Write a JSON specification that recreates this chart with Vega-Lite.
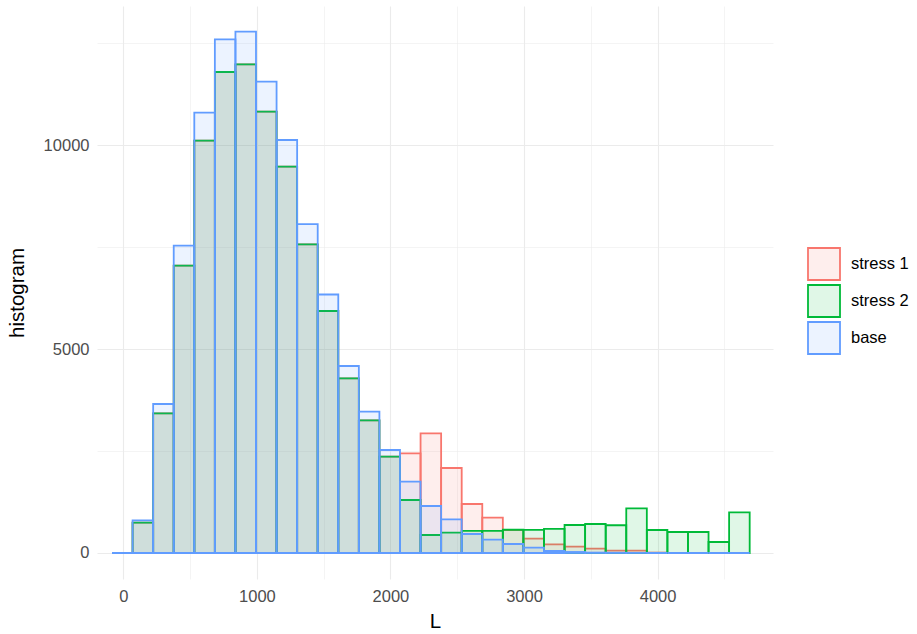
{
  "$schema": "https://vega.github.io/schema/vega-lite/v6.json",
  "description": "Overlaid histograms of L for three scenarios (ggplot-style, identity position).",
  "width": 676,
  "height": 573,
  "autosize": {"type": "none"},
  "padding": {"left": 97, "top": 6, "right": 144, "bottom": 55},
  "data": {
    "values": [
      {"scenario": "stress 1", "L_start": -84.6, "L_end": 69.4, "count": 0},
      {"scenario": "stress 1", "L_start": 69.4, "L_end": 223.4, "count": 744},
      {"scenario": "stress 1", "L_start": 223.4, "L_end": 377.4, "count": 3426},
      {"scenario": "stress 1", "L_start": 377.4, "L_end": 531.4, "count": 7047},
      {"scenario": "stress 1", "L_start": 531.4, "L_end": 685.4, "count": 10113},
      {"scenario": "stress 1", "L_start": 685.4, "L_end": 839.4, "count": 11798},
      {"scenario": "stress 1", "L_start": 839.4, "L_end": 993.4, "count": 11987},
      {"scenario": "stress 1", "L_start": 993.4, "L_end": 1147.4, "count": 10824},
      {"scenario": "stress 1", "L_start": 1147.4, "L_end": 1301.4, "count": 9476},
      {"scenario": "stress 1", "L_start": 1301.4, "L_end": 1455.4, "count": 7571},
      {"scenario": "stress 1", "L_start": 1455.4, "L_end": 1609.4, "count": 5936},
      {"scenario": "stress 1", "L_start": 1609.4, "L_end": 1763.4, "count": 4285},
      {"scenario": "stress 1", "L_start": 1763.4, "L_end": 1917.4, "count": 3254},
      {"scenario": "stress 1", "L_start": 1917.4, "L_end": 2071.4, "count": 2362},
      {"scenario": "stress 1", "L_start": 2071.4, "L_end": 2225.4, "count": 2445},
      {"scenario": "stress 1", "L_start": 2225.4, "L_end": 2379.4, "count": 2936},
      {"scenario": "stress 1", "L_start": 2379.4, "L_end": 2533.4, "count": 2085},
      {"scenario": "stress 1", "L_start": 2533.4, "L_end": 2687.4, "count": 1202},
      {"scenario": "stress 1", "L_start": 2687.4, "L_end": 2841.4, "count": 866},
      {"scenario": "stress 1", "L_start": 2841.4, "L_end": 2995.4, "count": 560},
      {"scenario": "stress 1", "L_start": 2995.4, "L_end": 3149.4, "count": 350},
      {"scenario": "stress 1", "L_start": 3149.4, "L_end": 3303.4, "count": 213},
      {"scenario": "stress 1", "L_start": 3303.4, "L_end": 3457.4, "count": 155},
      {"scenario": "stress 1", "L_start": 3457.4, "L_end": 3611.4, "count": 106},
      {"scenario": "stress 1", "L_start": 3611.4, "L_end": 3765.4, "count": 56},
      {"scenario": "stress 1", "L_start": 3765.4, "L_end": 3919.4, "count": 56},
      {"scenario": "stress 1", "L_start": 3919.4, "L_end": 4073.4, "count": 10},
      {"scenario": "stress 1", "L_start": 4073.4, "L_end": 4227.4, "count": 0},
      {"scenario": "stress 1", "L_start": 4227.4, "L_end": 4381.4, "count": 0},
      {"scenario": "stress 1", "L_start": 4381.4, "L_end": 4535.4, "count": 0},
      {"scenario": "stress 1", "L_start": 4535.4, "L_end": 4689.4, "count": 0},

      {"scenario": "stress 2", "L_start": -84.6, "L_end": 69.4, "count": 0},
      {"scenario": "stress 2", "L_start": 69.4, "L_end": 223.4, "count": 744},
      {"scenario": "stress 2", "L_start": 223.4, "L_end": 377.4, "count": 3426},
      {"scenario": "stress 2", "L_start": 377.4, "L_end": 531.4, "count": 7047},
      {"scenario": "stress 2", "L_start": 531.4, "L_end": 685.4, "count": 10113},
      {"scenario": "stress 2", "L_start": 685.4, "L_end": 839.4, "count": 11798},
      {"scenario": "stress 2", "L_start": 839.4, "L_end": 993.4, "count": 11987},
      {"scenario": "stress 2", "L_start": 993.4, "L_end": 1147.4, "count": 10824},
      {"scenario": "stress 2", "L_start": 1147.4, "L_end": 1301.4, "count": 9476},
      {"scenario": "stress 2", "L_start": 1301.4, "L_end": 1455.4, "count": 7571},
      {"scenario": "stress 2", "L_start": 1455.4, "L_end": 1609.4, "count": 5936},
      {"scenario": "stress 2", "L_start": 1609.4, "L_end": 1763.4, "count": 4285},
      {"scenario": "stress 2", "L_start": 1763.4, "L_end": 1917.4, "count": 3254},
      {"scenario": "stress 2", "L_start": 1917.4, "L_end": 2071.4, "count": 2362},
      {"scenario": "stress 2", "L_start": 2071.4, "L_end": 2225.4, "count": 1300},
      {"scenario": "stress 2", "L_start": 2225.4, "L_end": 2379.4, "count": 441},
      {"scenario": "stress 2", "L_start": 2379.4, "L_end": 2533.4, "count": 499},
      {"scenario": "stress 2", "L_start": 2533.4, "L_end": 2687.4, "count": 540},
      {"scenario": "stress 2", "L_start": 2687.4, "L_end": 2841.4, "count": 540},
      {"scenario": "stress 2", "L_start": 2841.4, "L_end": 2995.4, "count": 570},
      {"scenario": "stress 2", "L_start": 2995.4, "L_end": 3149.4, "count": 565},
      {"scenario": "stress 2", "L_start": 3149.4, "L_end": 3303.4, "count": 592},
      {"scenario": "stress 2", "L_start": 3303.4, "L_end": 3457.4, "count": 687},
      {"scenario": "stress 2", "L_start": 3457.4, "L_end": 3611.4, "count": 711},
      {"scenario": "stress 2", "L_start": 3611.4, "L_end": 3765.4, "count": 680},
      {"scenario": "stress 2", "L_start": 3765.4, "L_end": 3919.4, "count": 1096},
      {"scenario": "stress 2", "L_start": 3919.4, "L_end": 4073.4, "count": 564},
      {"scenario": "stress 2", "L_start": 4073.4, "L_end": 4227.4, "count": 515},
      {"scenario": "stress 2", "L_start": 4227.4, "L_end": 4381.4, "count": 515},
      {"scenario": "stress 2", "L_start": 4381.4, "L_end": 4535.4, "count": 270},
      {"scenario": "stress 2", "L_start": 4535.4, "L_end": 4689.4, "count": 998},

      {"scenario": "base", "L_start": -84.6, "L_end": 69.4, "count": 0},
      {"scenario": "base", "L_start": 69.4, "L_end": 223.4, "count": 800},
      {"scenario": "base", "L_start": 223.4, "L_end": 377.4, "count": 3655},
      {"scenario": "base", "L_start": 377.4, "L_end": 531.4, "count": 7537},
      {"scenario": "base", "L_start": 531.4, "L_end": 685.4, "count": 10800},
      {"scenario": "base", "L_start": 685.4, "L_end": 839.4, "count": 12600},
      {"scenario": "base", "L_start": 839.4, "L_end": 993.4, "count": 12790},
      {"scenario": "base", "L_start": 993.4, "L_end": 1147.4, "count": 11560},
      {"scenario": "base", "L_start": 1147.4, "L_end": 1301.4, "count": 10130},
      {"scenario": "base", "L_start": 1301.4, "L_end": 1455.4, "count": 8065},
      {"scenario": "base", "L_start": 1455.4, "L_end": 1609.4, "count": 6340},
      {"scenario": "base", "L_start": 1609.4, "L_end": 1763.4, "count": 4587},
      {"scenario": "base", "L_start": 1763.4, "L_end": 1917.4, "count": 3466},
      {"scenario": "base", "L_start": 1917.4, "L_end": 2071.4, "count": 2526},
      {"scenario": "base", "L_start": 2071.4, "L_end": 2225.4, "count": 1749},
      {"scenario": "base", "L_start": 2225.4, "L_end": 2379.4, "count": 1153},
      {"scenario": "base", "L_start": 2379.4, "L_end": 2533.4, "count": 826},
      {"scenario": "base", "L_start": 2533.4, "L_end": 2687.4, "count": 466},
      {"scenario": "base", "L_start": 2687.4, "L_end": 2841.4, "count": 330},
      {"scenario": "base", "L_start": 2841.4, "L_end": 2995.4, "count": 221},
      {"scenario": "base", "L_start": 2995.4, "L_end": 3149.4, "count": 130},
      {"scenario": "base", "L_start": 3149.4, "L_end": 3303.4, "count": 49},
      {"scenario": "base", "L_start": 3303.4, "L_end": 3457.4, "count": 25},
      {"scenario": "base", "L_start": 3457.4, "L_end": 3611.4, "count": 10},
      {"scenario": "base", "L_start": 3611.4, "L_end": 3765.4, "count": 5},
      {"scenario": "base", "L_start": 3765.4, "L_end": 3919.4, "count": 2},
      {"scenario": "base", "L_start": 3919.4, "L_end": 4073.4, "count": 0},
      {"scenario": "base", "L_start": 4073.4, "L_end": 4227.4, "count": 0},
      {"scenario": "base", "L_start": 4227.4, "L_end": 4381.4, "count": 0},
      {"scenario": "base", "L_start": 4381.4, "L_end": 4535.4, "count": 0},
      {"scenario": "base", "L_start": 4535.4, "L_end": 4689.4, "count": 0}
    ]
  },
  "mark": {
    "type": "rect",
    "fillOpacity": 0.12,
    "strokeWidth": 1.8
  },
  "encoding": {
    "x": {
      "field": "L_start",
      "type": "quantitative",
      "title": "L",
      "scale": {"domain": [-197, 4864], "nice": false, "zero": false},
      "axis": {
        "values": [0, 500, 1000, 1500, 2000, 2500, 3000, 3500, 4000, 4500],
        "labelExpr": "datum.value % 1000 === 0 ? datum.label : ''",
        "format": "d",
        "gridWidth": {"condition": {"test": "datum.value % 1000 === 0", "value": 1.1}, "value": 0.55}
      }
    },
    "x2": {"field": "L_end"},
    "y": {
      "field": "count",
      "type": "quantitative",
      "title": "histogram",
      "stack": null,
      "scale": {"domain": [-638, 13417], "nice": false, "zero": false},
      "axis": {
        "values": [0, 2500, 5000, 7500, 10000, 12500],
        "labelExpr": "datum.value % 5000 === 0 ? datum.label : ''",
        "format": "d",
        "gridWidth": {"condition": {"test": "datum.value % 5000 === 0", "value": 1.1}, "value": 0.55}
      }
    },
    "y2": {"datum": 0},
    "fill": {
      "field": "scenario",
      "type": "nominal",
      "scale": {"domain": ["stress 1", "stress 2", "base"], "range": ["#F8766D", "#00BA38", "#619CFF"]},
      "legend": {
        "title": null,
        "orient": "none",
        "legendX": 710,
        "legendY": 241,
        "symbolType": "square",
        "symbolSize": 1024,
        "symbolStrokeWidth": 1.8,
        "labelFontSize": 16.5,
        "labelOffset": 10,
        "rowPadding": -6,
        "encode": {"symbols": {"update": {"fillOpacity": {"value": 0.12}}}}
      }
    },
    "stroke": {
      "field": "scenario",
      "type": "nominal",
      "scale": {"domain": ["stress 1", "stress 2", "base"], "range": ["#F8766D", "#00BA38", "#619CFF"]},
      "legend": {
        "title": null,
        "orient": "none",
        "legendX": 710,
        "legendY": 241,
        "symbolType": "square",
        "symbolSize": 1024,
        "symbolStrokeWidth": 1.8,
        "labelFontSize": 16.5,
        "labelOffset": 10,
        "rowPadding": -6,
        "encode": {"symbols": {"update": {"fillOpacity": {"value": 0.12}}}}
      }
    }
  },
  "config": {
    "font": "Liberation Sans",
    "view": {"stroke": null},
    "axis": {
      "domain": false,
      "ticks": false,
      "gridColor": "#EBEBEB",
      "labelColor": "#4D4D4D",
      "labelFontSize": 16.5,
      "labelFont": "Liberation Sans",
      "titleFont": "Liberation Sans",
      "titleFontSize": 20.5,
      "titleFontWeight": "normal",
      "titleColor": "#000000"
    },
    "axisX": {"labelPadding": 9, "titlePadding": 7},
    "axisY": {"labelPadding": 8, "titlePadding": 16},
    "legend": {
      "labelFont": "Liberation Sans",
      "labelColor": "#000000",
      "padding": 0
    }
  }
}
